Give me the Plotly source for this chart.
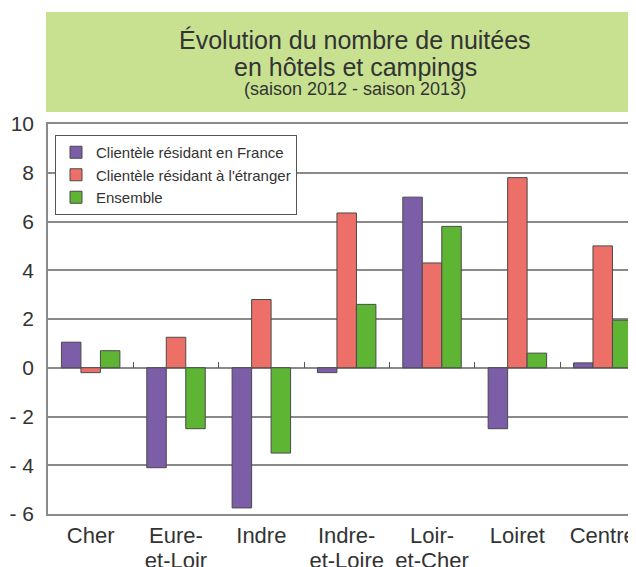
import plotly.graph_objects as go

categories = ["Cher", "Eure-<br>et-Loir", "Indre", "Indre-<br>et-Loire", "Loir-<br>et-Cher", "Loiret", "Centre"]
france = [1.05, -4.1, -5.75, -0.2, 7.0, -2.5, 0.2]
etranger = [-0.2, 1.25, 2.8, 6.35, 4.3, 7.8, 5.0]
ensemble = [0.7, -2.5, -3.5, 2.6, 5.8, 0.6, 1.95]
series_names = ["Clientèle résidant en France", "Clientèle résidant à l'étranger", "Ensemble"]
colors = ["#7b5ea7", "#ec7068", "#5db533"]
ytick_vals = [10, 8, 6, 4, 2, 0, -2, -4, -6]
ytick_text = ["10", "8", "6", "4", "2", "0", "- 2", "- 4", "- 6"]
title_lines = ["Évolution du nombre de nuitées", "en hôtels et campings", "(saison 2012 - saison 2013)"]

# category labels split in their two lines (second line drawn by an overlaid axis)
label_line1 = [c.split("<br>")[0] for c in categories]
label_line2 = [c.split("<br>")[1] if "<br>" in c else "" for c in categories]

FONT = "Liberation Sans, Arial, sans-serif"
TXT = "#333333"
GRID = "#8a8a8a"

# page body has an 8px margin: the figure starts at (8, 8) in the window
W, H = 628, 559
PL, PT, PB = 40, 116, 53          # plot area: window x 48..636, y 124..514
PLOT_W, PLOT_H = W - PL, H - PT - PB


def px_x(vx):
    return (vx - 8 - PL) / PLOT_W


def px_y(vy):
    return (H - PB - (vy - 8)) / PLOT_H


idx = list(range(len(categories)))
fig = go.Figure()
for name, vals, col in zip(series_names, [france, etranger, ensemble], colors):
    fig.add_trace(go.Bar(
        x=idx, y=vals, name=name,
        marker=dict(color=col, line=dict(color="#4a4a4a", width=1)),
    ))

# invisible traces hosting the overlaid helper axes
for ax in ["x2", "x3"]:
    fig.add_trace(go.Scatter(x=[0], y=[0], xaxis=ax, yaxis="y", mode="markers",
                             marker=dict(opacity=0), showlegend=False, hoverinfo="skip"))

XR = [-0.5, 6.39]
fig.update_layout(
    width=W, height=H,
    margin=dict(l=PL, r=0, t=PT, b=PB, pad=0, autoexpand=False),
    paper_bgcolor="white", plot_bgcolor="white",
    barmode="group", bargap=0.315, bargroupgap=0,
    font=dict(family=FONT, color=TXT),
    showlegend=True,
    legend=dict(
        x=px_x(55), xanchor="left", y=px_y(135), yanchor="top",
        bgcolor="white", bordercolor="#555555", borderwidth=1,
        font=dict(family=FONT, size=15, color=TXT),
        tracegroupgap=0, itemwidth=30,
    ),
    xaxis=dict(
        range=XR, automargin=False,
        tickmode="array", tickvals=idx, ticktext=label_line1,
        tickfont=dict(family=FONT, size=22, color=TXT),
        showgrid=False, zeroline=False,
        showline=True, linecolor=GRID, linewidth=1.5, mirror=True,
        ticks="", ticklabelstandoff=1,
    ),
    xaxis2=dict(
        range=XR, overlaying="x", anchor="free", position=0.375, automargin=False,
        tickmode="array", tickvals=[0.5, 1.5, 2.5, 3.5, 4.5, 5.5],
        ticks="inside", ticklen=6, tickwidth=1, tickcolor="#555555",
        showticklabels=False, showgrid=False, zeroline=False, showline=False,
    ),
    xaxis3=dict(
        range=XR, overlaying="x", anchor="y", side="bottom", automargin=False,
        tickmode="array", tickvals=idx, ticktext=label_line2,
        tickfont=dict(family=FONT, size=22, color=TXT),
        showgrid=False, zeroline=False, showline=False,
        ticks="", ticklabelstandoff=31,
    ),
    yaxis=dict(
        range=[-6, 10], automargin=False,
        tickmode="array", tickvals=ytick_vals, ticktext=ytick_text,
        tickfont=dict(family=FONT, size=21, color=TXT),
        showgrid=True, gridcolor=GRID, gridwidth=1.5,
        zeroline=True, zerolinecolor=GRID, zerolinewidth=1.5,
        showline=True, linecolor=GRID, linewidth=1.5,
        ticks="", ticklabelstandoff=8,
    ),
)

# green title band
fig.add_shape(type="rect", xref="paper", yref="paper",
              x0=px_x(46), x1=1.05, y0=px_y(112), y1=px_y(12),
              fillcolor="#c7e190", line=dict(width=0), layer="below")

title_x = px_x(355)
for txt, vy, size in zip(title_lines, [40, 67, 89], [25, 25, 18]):
    fig.add_annotation(text=txt, xref="paper", yref="paper",
                       x=title_x, y=px_y(vy), xanchor="center", yanchor="middle",
                       showarrow=False, font=dict(family=FONT, size=size, color=TXT))

fig.write_html("out.html")
